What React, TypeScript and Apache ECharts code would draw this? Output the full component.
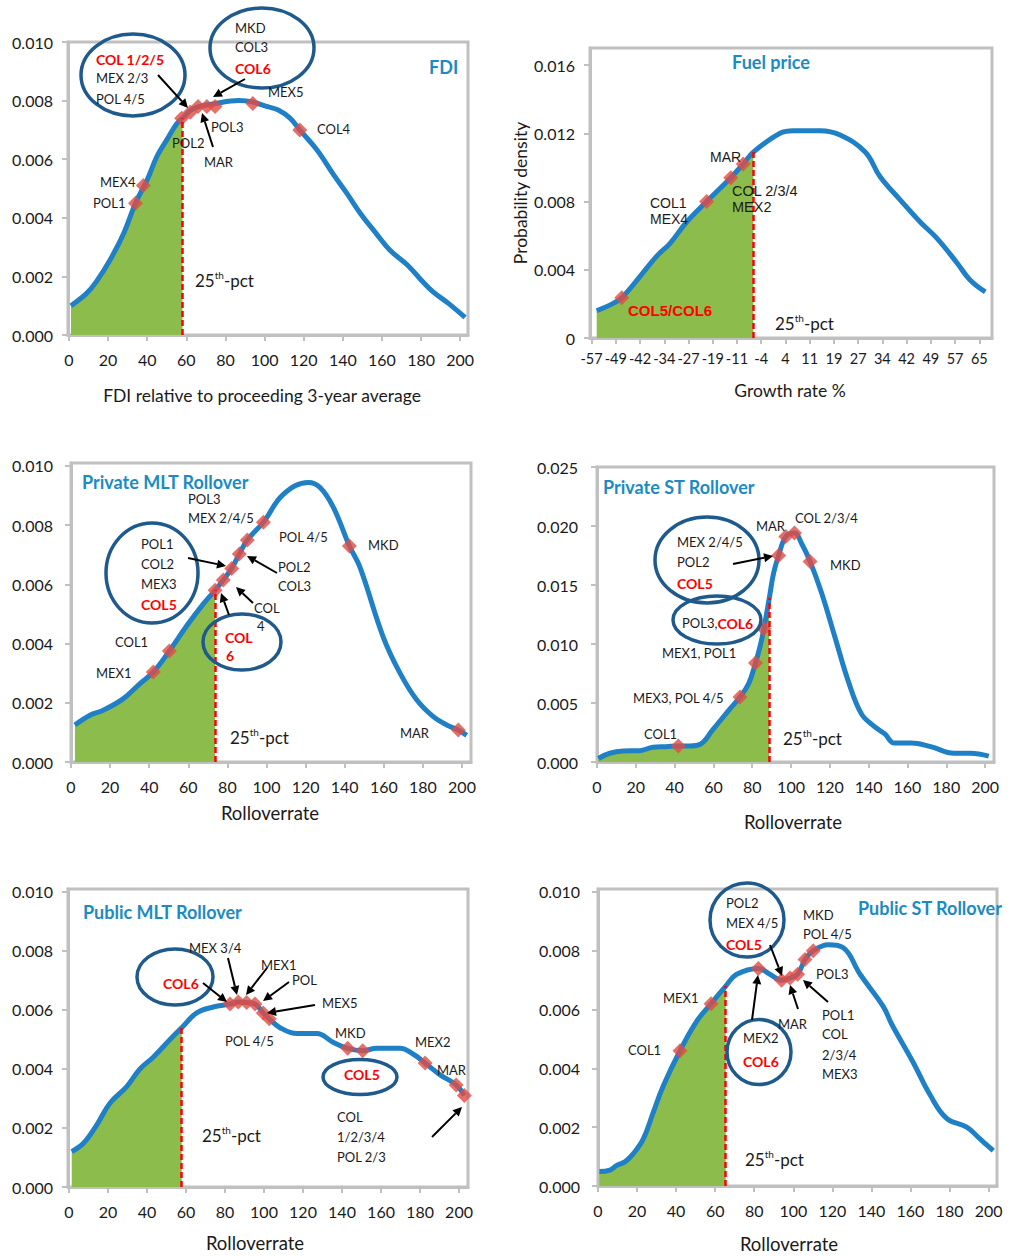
import React, { useEffect, useRef } from "react";
import * as echarts from "echarts";

// ---------------- data ----------------
const rolloverTicks = [0, 20, 40, 60, 80, 100, 120, 140, 160, 180, 200];
const densityTicks10 = [0, 0.002, 0.004, 0.006, 0.008, 0.01];
const densityTicks25 = [0, 0.005, 0.01, 0.015, 0.02, 0.025];
const fuelDensityTicks = [0, 0.004, 0.008, 0.012, 0.016];
// category-style tick labels of the fuel-price axis (evenly spaced from -57 to 65)
const fuelGrowthLabels = ["-57", "-49", "-42", "-34", "-27", "-19", "-11", "-4", "4", "11", "19", "27", "34", "42", "49", "57", "65"];

// FDI
const fdiX = [1, 9, 14, 21, 28, 34, 40, 45, 50, 55, 58, 64, 75, 87, 94, 101, 107, 113, 118, 127, 135, 142, 149, 157, 164, 173, 180, 186, 194, 202.5];
const fdiY = [0.001, 0.00142, 0.00182, 0.00256, 0.00347, 0.0045, 0.0053, 0.0061, 0.00666, 0.0072, 0.0074, 0.00774, 0.0079, 0.008, 0.00795, 0.0078, 0.00768, 0.0074, 0.007, 0.0063, 0.0055, 0.00484, 0.00415, 0.00347, 0.0029, 0.00239, 0.00188, 0.00148, 0.00108, 0.0006];
const fdiPct = 58;
const fdiMarkX = [34, 38, 57.6, 62, 66, 70.5, 74.7, 94, 118];
const fdiMarkY = [0.0045, 0.0051, 0.0074, 0.0076, 0.0078, 0.0078, 0.0078, 0.0079, 0.007];

// Fuel price
const fuelX = [-55.4, -50.2, -47.5, -41.8, -36.5, -32.3, -27.1, -20.8, -13.2, -9.3, -6.1, 2.3, 6.5, 14.9, 21.2, 29.1, 33.8, 40.1, 46.4, 51.7, 58, 62.1, 66.9];
const fuelY = [0.0016, 0.00203, 0.00236, 0.0036, 0.0048, 0.00555, 0.0068, 0.008, 0.0094, 0.0102, 0.0109, 0.012, 0.01215, 0.01215, 0.0119, 0.0109, 0.00945, 0.0081, 0.0068, 0.00584, 0.0044, 0.0034, 0.0027];
const fuelPct = -6.1;
const fuelMarkX = [-47.5, -20.8, -13.2, -9.3];
const fuelMarkY = [0.00236, 0.008, 0.0094, 0.0102];

// Private MLT rollover
const pmltX = [2, 9.7, 16.5, 26.8, 35.3, 42.1, 50.3, 59.2, 67.7, 73.7, 77.9, 82.2, 86.1, 90.2, 98.4, 108.6, 121.4, 127.4, 134.2, 142.4, 147.8, 159.7, 168.3, 176.8, 185.3, 192.2, 198.1, 202.4];
const pmltY = [0.00125, 0.00158, 0.00175, 0.00214, 0.00265, 0.00304, 0.00375, 0.0046, 0.00534, 0.0058, 0.00615, 0.00654, 0.00703, 0.0075, 0.0081, 0.00904, 0.00944, 0.00927, 0.0086, 0.0073, 0.00658, 0.00422, 0.003, 0.0021, 0.00153, 0.00125, 0.00108, 0.0009];
const pmltPct = 73.7;
const pmltMarkX = [42.1, 50.3, 73.7, 77.9, 82.2, 86.1, 90.2, 98.4, 142.4, 198.1];
const pmltMarkY = [0.00304, 0.00375, 0.0058, 0.00615, 0.00654, 0.00703, 0.0075, 0.0081, 0.0073, 0.00108];

// Private ST rollover
const pstX = [0.7, 6.6, 13.5, 22, 28.8, 35.6, 41.9, 47.6, 53.5, 59.5, 68, 73.7, 78.3, 81.7, 84.2, 86, 88.8, 91, 93.6, 97.3, 101.8, 105.5, 109.8, 115.8, 122.6, 129.4, 136.2, 143, 148.2, 153.3, 161.8, 172, 184, 192.5, 201.9];
const pstY = [0.0003, 0.00074, 0.00093, 0.00096, 0.00125, 0.0013, 0.00136, 0.00136, 0.00153, 0.0027, 0.0044, 0.0055, 0.0067, 0.0084, 0.0099, 0.0113, 0.0139, 0.016, 0.0175, 0.0191, 0.0194, 0.0185, 0.017, 0.0143, 0.0106, 0.0069, 0.0041, 0.003, 0.0024, 0.0016, 0.0016, 0.0013, 0.00074, 0.00074, 0.0005];
const pstPct = 88.8;
const pstMarkX = [41.9, 73.7, 81.7, 86, 93.6, 97.3, 101.8, 109.8];
const pstMarkY = [0.00136, 0.0055, 0.0084, 0.0113, 0.0175, 0.0191, 0.0194, 0.017];

// Public MLT rollover
const pubmltX = [1.4, 7.4, 14.2, 21, 29.6, 36.4, 43.2, 51.8, 57.8, 65.5, 74, 82.6, 86.8, 91.1, 95.4, 99.6, 102.7, 108.2, 116.8, 127, 135.6, 142.9, 150.6, 157.8, 169.7, 176.6, 182.6, 190.3, 198.5, 202.7];
const pubmltY = [0.0012, 0.00148, 0.0021, 0.00284, 0.0034, 0.004, 0.0044, 0.005, 0.0054, 0.0059, 0.0061, 0.0062, 0.00627, 0.00625, 0.0062, 0.0059, 0.0057, 0.0054, 0.0052, 0.0052, 0.0049, 0.0047, 0.00462, 0.0047, 0.0047, 0.0045, 0.0042, 0.0038, 0.00346, 0.0031];
const pubmltPct = 57.8;
const pubmltMarkX = [82.6, 86.8, 91.1, 95.4, 99.6, 102.7, 142.9, 150.6, 182.6, 198.5, 202.7];
const pubmltMarkY = [0.0062, 0.00627, 0.00625, 0.0062, 0.0059, 0.0057, 0.0047, 0.00462, 0.0042, 0.00346, 0.0031];

// Public ST rollover
const pubstX = [0.7, 6.1, 9.6, 13.8, 18.1, 23.2, 28.3, 33.4, 42, 50.5, 57.9, 65.4, 71, 82.1, 88, 94, 98.3, 102.2, 106, 110.2, 117.9, 125.6, 134.2, 146.1, 150.4, 161.4, 170, 178.5, 188.8, 195.6, 202.4];
const pubstY = [0.00049, 0.00054, 0.0007, 0.00082, 0.0011, 0.0016, 0.0025, 0.0034, 0.0046, 0.0056, 0.0062, 0.0068, 0.0072, 0.0074, 0.0072, 0.007, 0.00707, 0.0072, 0.0077, 0.008, 0.0082, 0.0081, 0.0072, 0.0061, 0.0055, 0.0042, 0.0031, 0.0023, 0.002, 0.0016, 0.0012];
const pubstPct = 65.4;
const pubstMarkX = [42, 57.9, 82.1, 94, 98.3, 102.2, 106, 110.2];
const pubstMarkY = [0.0046, 0.0062, 0.0074, 0.007, 0.00707, 0.0072, 0.0077, 0.008];

// ---------------- styles ----------------
const BLUE = "#1f80c6";
const TITLE_BLUE = "#1a8bc3";
const GREEN = "#8cbd4c";
const RED_MARK = "#de4c45";
const NAVY = "#1f5a8c";
const FRAME = "#c0c0c0";
const DARK = "#1a1a1a";
const FONT = "Lato";
const ARIAL = "Liberation Sans";

// evenly spaced positions for the fuel-price tick labels
const fuelFirst = Number(fuelGrowthLabels[0]);
const fuelLast = Number(fuelGrowthLabels[fuelGrowthLabels.length - 1]);
const fuelStep = (fuelLast - fuelFirst) / (fuelGrowthLabels.length - 1);
const fuelTickPos = fuelGrowthLabels.map((_, i) => fuelFirst + i * fuelStep);

type Panel = {
  grid: { left: number; top: number; width: number; height: number };
  xMin: number; xMax: number; yMax: number;
  xTicks: number[]; xLabels?: string[]; yTicks: number[];
  cx: number[]; cy: number[]; pct: number; mx: number[]; my: number[];
  yMargin: number; xMargin: number; xFont: number; fuel?: boolean;
};

const panels: Panel[] = [
  { grid: { left: 68, top: 42, width: 400, height: 293 }, xMin: -0.5, xMax: 204, yMax: 0.01, xTicks: rolloverTicks, yTicks: densityTicks10, cx: fdiX, cy: fdiY, pct: fdiPct, mx: fdiMarkX, my: fdiMarkY, yMargin: 15, xMargin: 16, xFont: 16 },
  { grid: { left: 590, top: 48, width: 402, height: 290 }, xMin: -57.5, xMax: 69, yMax: 0.017, xTicks: fuelTickPos, xLabels: fuelGrowthLabels, yTicks: fuelDensityTicks, cx: fuelX, cy: fuelY, pct: fuelPct, mx: fuelMarkX, my: fuelMarkY, yMargin: 15, xMargin: 13, xFont: 14.5, fuel: true },
  { grid: { left: 71, top: 463, width: 400, height: 299 }, xMin: 0, xMax: 204.6, yMax: 0.0101, xTicks: rolloverTicks, yTicks: densityTicks10, cx: pmltX, cy: pmltY, pct: pmltPct, mx: pmltMarkX, my: pmltMarkY, yMargin: 18, xMargin: 16, xFont: 16 },
  { grid: { left: 597, top: 467, width: 397, height: 295 }, xMin: 0, xMax: 204.6, yMax: 0.025, xTicks: rolloverTicks, yTicks: densityTicks25, cx: pstX, cy: pstY, pct: pstPct, mx: pstMarkX, my: pstMarkY, yMargin: 19, xMargin: 16, xFont: 16 },
  { grid: { left: 68, top: 889, width: 400, height: 298 }, xMin: -0.5, xMax: 204.6, yMax: 0.0101, xTicks: rolloverTicks, yTicks: densityTicks10, cx: pubmltX, cy: pubmltY, pct: pubmltPct, mx: pubmltMarkX, my: pubmltMarkY, yMargin: 15, xMargin: 16, xFont: 16 },
  { grid: { left: 598, top: 889, width: 399, height: 297 }, xMin: 0, xMax: 204.3, yMax: 0.0101, xTicks: rolloverTicks, yTicks: densityTicks10, cx: pubstX, cy: pubstY, pct: pubstPct, mx: pubstMarkX, my: pubstMarkY, yMargin: 18, xMargin: 16, xFont: 16 },
];

// ---------------- annotation helpers ----------------
type TOpt = { bold?: boolean; red?: boolean; size?: number; family?: string; align?: string; fill?: string };
const T = (text: string, x: number, y: number, o: TOpt = {}) => ({
  type: "text", x, y, z: 100,
  style: {
    text,
    fill: o.fill || (o.red ? "#ff0000" : DARK),
    font: `${o.bold || o.red ? "bold " : ""}${o.size || (o.red ? 14 : 13)}px "${o.family || FONT}"`,
    align: o.align || "left",
    verticalAlign: "middle",
  },
});
const title = (text: string, x: number, y: number, align = "left") =>
  T(text, x, y, { bold: true, size: 18, fill: TITLE_BLUE, align });
const axisTitle = (text: string, x: number, y: number, size = 17.5) => T(text, x, y, { size, align: "center" });
const pctLabel = (x: number, y: number) => ({
  type: "text", x, y, z: 100,
  style: {
    text: "{a|25}{s|th}{a|-pct}",
    verticalAlign: "middle",
    rich: {
      a: { fontSize: 17, fontFamily: FONT, fill: DARK, lineHeight: 20 },
      s: { fontSize: 10, fontFamily: FONT, fill: DARK, verticalAlign: "top" },
    },
  },
});
const ring = (cx: number, cy: number, rx: number, ry: number) => ({
  type: "ellipse", z: 90, shape: { cx, cy, rx, ry },
  style: { fill: "none", stroke: NAVY, lineWidth: 3.5 },
});
const arrow = (x1: number, y1: number, x2: number, y2: number) => {
  const dx = x2 - x1, dy = y2 - y1, len = Math.hypot(dx, dy);
  const ux = dx / len, uy = dy / len, hl = 9, hw = 4.5;
  const bx = x2 - ux * hl, by = y2 - uy * hl;
  return [
    { type: "line", z: 100, shape: { x1, y1, x2: bx, y2: by }, style: { stroke: "#000", lineWidth: 2 } },
    { type: "polygon", z: 100, shape: { points: [[x2, y2], [bx - uy * hw, by + ux * hw], [bx + uy * hw, by - ux * hw]] }, style: { fill: "#000" } },
  ];
};

const annotations: any[] = [
  // ---- FDI ----
  title("FDI", 429, 67),
  T("MEX4", 100, 182), T("POL1", 93, 203), T("POL2", 172, 143), T("POL3", 211, 127),
  T("MAR", 204, 162), T("MEX5", 268, 92), T("COL4", 317, 129),
  ring(133, 75, 52, 41),
  T("COL 1/2/5", 96, 59, { red: true }), T("MEX 2/3", 96, 78), T("POL 4/5", 96, 99),
  ring(262, 48, 52, 40),
  T("MKD", 235, 28), T("COL3", 235, 47), T("COL6", 235, 68, { red: true }),
  ...arrow(158, 75, 188, 108), ...arrow(245, 79, 213, 97), ...arrow(213, 147, 202, 113),
  pctLabel(195, 280),
  axisTitle("FDI relative to proceeding 3-year average", 262, 395),
  // ---- Fuel price ----
  title("Fuel price", 771, 62, "center"),
  T("MAR", 710, 157, { family: ARIAL, size: 14 }),
  T("COL1", 650, 203, { family: ARIAL, size: 14 }), T("MEX4", 650, 219, { family: ARIAL, size: 14 }),
  T("COL 2/3/4", 732, 191, { family: ARIAL, size: 14.5 }), T("MEX2", 732, 207, { family: ARIAL, size: 14.5 }),
  T("COL5/COL6", 628, 310, { red: true, family: ARIAL, size: 15 }),
  pctLabel(775, 323),
  axisTitle("Growth rate %", 790, 390),
  { type: "text", x: 520, y: 193, z: 100, rotation: Math.PI / 2,
    style: { text: "Probability density", fill: DARK, font: `17.5px "${FONT}"`, align: "center", verticalAlign: "middle" } },
  // ---- Private MLT ----
  title("Private MLT Rollover", 82, 482),
  T("POL3", 188, 499), T("MEX 2/4/5", 188, 518), T("POL 4/5", 279, 537), T("MKD", 368, 545),
  ring(152, 573, 46, 50),
  T("POL1", 141, 544), T("COL2", 141, 564), T("MEX3", 141, 584), T("COL5", 141, 604, { red: true }),
  ...arrow(188, 558, 226, 566),
  T("POL2", 278, 567), T("COL3", 278, 586),
  ...arrow(277, 573, 247, 556),
  T("COL", 254, 608), T("4", 257, 626),
  ...arrow(253, 603, 236, 587), ...arrow(229, 615, 221, 593),
  ring(242, 642, 39, 28),
  T("COL", 225, 637, { red: true }), T("6", 226, 655, { red: true }),
  T("COL1", 115, 642), T("MEX1", 96, 673), T("MAR", 400, 733),
  pctLabel(230, 737),
  axisTitle("Rolloverrate", 270, 813, 18.5),
  // ---- Private ST ----
  title("Private ST Rollover", 603, 487),
  T("MAR", 756, 526), T("COL 2/3/4", 795, 518), T("MKD", 830, 565),
  ring(707, 560, 52, 43),
  T("MEX 2/4/5", 677, 542), T("POL2", 677, 562), T("COL5", 677, 583, { red: true }),
  ...arrow(733, 564, 773, 556),
  ring(717, 620, 44, 24),
  { type: "text", x: 682, y: 623, z: 100,
    style: { text: "{n|POL3,}{r|COL6}", verticalAlign: "middle",
      rich: { n: { fontSize: 13, fontFamily: FONT, fill: DARK }, r: { fontSize: 14, fontFamily: FONT, fontWeight: "bold", fill: "#ff0000" } } } },
  T("MEX1, POL1", 662, 653), T("MEX3, POL 4/5", 633, 698), T("COL1", 644, 734),
  pctLabel(783, 738),
  axisTitle("Rolloverrate", 793, 822, 18.5),
  // ---- Public MLT ----
  title("Public MLT Rollover", 83, 912),
  ring(175, 977, 38, 28), T("COL6", 163, 983, { red: true }),
  ...arrow(203, 983, 227, 1002),
  T("MEX 3/4", 189, 948), ...arrow(228, 958, 237, 995),
  T("MEX1", 261, 965), ...arrow(267, 968, 246, 995),
  T("POL", 292, 980), ...arrow(289, 982, 263, 1001),
  T("MEX5", 322, 1003), ...arrow(315, 1005, 267, 1013),
  T("POL 4/5", 225, 1041), T("MKD", 335, 1033),
  ring(360, 1077, 37, 17.5), T("COL5", 344, 1074, { red: true }),
  T("MEX2", 415, 1042), T("MAR", 437, 1070),
  T("COL", 337, 1117), T("1/2/3/4", 337, 1137), T("POL 2/3", 337, 1157),
  ...arrow(432, 1137, 462, 1107),
  pctLabel(202, 1135),
  axisTitle("Rolloverrate", 255, 1243, 18.5),
  // ---- Public ST ----
  title("Public ST Rollover", 858, 908),
  ring(747, 920, 37, 37),
  T("POL2", 726, 903), T("MEX 4/5", 726, 923), T("COL5", 726, 944, { red: true }),
  ...arrow(770, 945, 782, 976),
  T("MKD", 803, 915), T("POL 4/5", 803, 934), T("POL3", 816, 974),
  ...arrow(828, 1002, 803, 980),
  T("POL1", 822, 1015), T("COL", 822, 1034), T("2/3/4", 822, 1055), T("MEX3", 822, 1074),
  T("MAR", 778, 1024), ...arrow(798, 1009, 790, 985),
  T("MEX1", 663, 998), T("COL1", 628, 1050),
  ring(759, 1052, 32, 32.5),
  T("MEX2", 743, 1038), T("COL6", 743, 1061, { red: true }),
  ...arrow(752, 1020, 758, 975),
  pctLabel(745, 1159),
  axisTitle("Rolloverrate", 789, 1244, 18.5),
];

function buildOption(): any {
  const grid = panels.map((p) => ({ ...p.grid, show: true, borderColor: FRAME, borderWidth: 3, backgroundColor: "transparent" }));
  const xAxis = panels.map((p, i) => ({
    type: "value", gridIndex: i, min: p.xMin, max: p.xMax,
    axisLine: { show: true, onZero: false, lineStyle: { color: FRAME, width: 3 } },
    axisTick: { show: true, length: 6, customValues: p.xTicks, lineStyle: { color: FRAME, width: 2 } },
    axisLabel: {
      customValues: p.xTicks, margin: p.xMargin, fontSize: p.xFont, fontFamily: FONT, color: DARK,
      formatter: (v: number) => {
        if (!p.xLabels) return String(v);
        let best = 0;
        p.xTicks.forEach((t, k) => { if (Math.abs(t - v) < Math.abs(p.xTicks[best] - v)) best = k; });
        return p.xLabels[best];
      },
    },
    splitLine: { show: false },
  }));
  const yAxis = panels.map((p, i) => ({
    type: "value", gridIndex: i, min: 0, max: p.yMax,
    axisLine: { show: true, onZero: false, lineStyle: { color: FRAME, width: 3 } },
    axisTick: { show: true, length: 6, customValues: p.yTicks, lineStyle: { color: FRAME, width: 2 } },
    axisLabel: { customValues: p.yTicks, margin: p.yMargin, fontSize: 16, fontFamily: FONT, color: DARK,
      formatter: (v: number) => (p.fuel && v === 0 ? "0" : v.toFixed(3)) },
    splitLine: { show: false },
  }));
  const series = panels.flatMap((p, i) => {
    const pts = p.cx.map((x, j) => [x, p.cy[j]]);
    const pctY = p.cy[p.cx.indexOf(p.pct)];
    return [
      {
        type: "line", xAxisIndex: i, yAxisIndex: i, data: pts.filter((d) => d[0] <= p.pct),
        smooth: 0.4, symbol: "none", silent: true, z: 1,
        lineStyle: { width: 0 }, areaStyle: { color: GREEN, opacity: 1 },
        markLine: {
          silent: true, symbol: ["none", "none"], label: { show: false },
          lineStyle: { color: "#ff0000", type: [6, 3], width: 2.5 },
          data: [[{ coord: [p.pct, 0] }, { coord: [p.pct, pctY] }]],
        },
      },
      {
        type: "line", xAxisIndex: i, yAxisIndex: i, data: pts, smooth: 0.4, symbol: "none", silent: true, z: 3,
        lineStyle: { color: BLUE, width: 5 },
      },
      {
        type: "scatter", xAxisIndex: i, yAxisIndex: i, data: p.mx.map((x, j) => [x, p.my[j]]),
        symbol: "diamond", symbolSize: 15, itemStyle: { color: RED_MARK }, z: 4, silent: true,
      },
    ];
  });
  return { animation: false, backgroundColor: "#ffffff", grid, xAxis, yAxis, series, graphic: { elements: annotations } };
}

export default function App() {
  const ref = useRef<HTMLDivElement>(null);
  useEffect(() => {
    if (!ref.current) return;
    const chart = echarts.init(ref.current, undefined, { renderer: "svg" });
    chart.setOption(buildOption());
    return () => chart.dispose();
  }, []);
  return <div ref={ref} style={{ position: "absolute", left: 0, top: 0, width: 1014, height: 1256 }} />;
}
